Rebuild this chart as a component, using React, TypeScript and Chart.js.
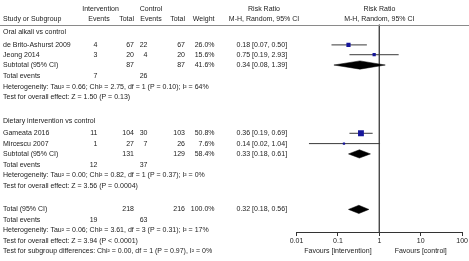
import React, { useEffect, useRef } from "react";
import { Chart, registerables } from "chart.js";

Chart.register(...registerables);

// ---------------- data ----------------
const groupNames = ["Oral alkali vs control", "Dietary intervention vs control"];
const studyNames = ["de Brito-Ashurst 2009", "Jeong 2014", "Gameata 2016", "Mircescu 2007"];
const studyGroup = [0, 0, 1, 1];
const intEvents = [4, 3, 11, 1];
const intTotals = [67, 20, 104, 27];
const ctlEvents = [22, 4, 30, 7];
const ctlTotals = [67, 20, 103, 26];
const studyWeights = [26.0, 15.6, 50.8, 7.6];
const studyRR = [0.18, 0.75, 0.36, 0.14];
const studyLow = [0.07, 0.19, 0.19, 0.02];
const studyHigh = [0.5, 2.93, 0.69, 1.04];

const subIntTotals = [87, 131];
const subCtlTotals = [87, 129];
const subWeights = [41.6, 58.4];
const subRR = [0.34, 0.33];
const subLow = [0.08, 0.18];
const subHigh = [1.39, 0.61];
const subIntEvents = [7, 12];
const subCtlEvents = [26, 37];
const subHeterogeneity = [
  "Heterogeneity: Tau² = 0.66; Chi² = 2.75, df = 1 (P = 0.10); I² = 64%",
  "Heterogeneity: Tau² = 0.00; Chi² = 0.82, df = 1 (P = 0.37); I² = 0%",
];
const subOverall = [
  "Test for overall effect: Z = 1.50 (P = 0.13)",
  "Test for overall effect: Z = 3.56 (P = 0.0004)",
];

const totalIntTotal = 218;
const totalCtlTotal = 216;
const totalWeight = 100.0;
const totalRR = 0.32;
const totalLow = 0.18;
const totalHigh = 0.56;
const totalIntEvents = 19;
const totalCtlEvents = 63;
const totalHeterogeneity = "Heterogeneity: Tau² = 0.06; Chi² = 3.61, df = 3 (P = 0.31); I² = 17%";
const totalOverall = "Test for overall effect: Z = 3.94 (P < 0.0001)";
const subgroupTest = "Test for subgroup differences: Chi² = 0.00, df = 1 (P = 0.97), I² = 0%";

const axisTicks = [0.01, 0.1, 1, 10, 100];
const axisTickLabels = ["0.01", "0.1", "1", "10", "100"];
const favourLabels = ["Favours [intervention]", "Favours [control]"];
const favourAt = [0.1, 10];
const nullValue = 1;

// ---------------- layout (rows in units of 10 px) ----------------
const Y_MAX = 23.2;
const ROWS = {
  head1: 0.5,
  head2: 1.5,
  rule: 2.1,
  groups: [
    { heading: 2.85, studies: [4.15, 5.15], subtotal: 6.2, events: 7.35, het: 8.4, test: 9.5 },
    { heading: 11.95, studies: [13.15, 14.2], subtotal: 15.25, events: 16.4, het: 17.45, test: 18.5 },
  ],
  total: 20.9,
  totalEvents: 22.0,
  totalHet: 23.05,
  totalTest: 24.1,
  subgroup: 25.15,
};
const COL = {
  study: 3,
  intHead: 100.5,
  intEventsHead: 99,
  intEvents: 97.5,
  intTotal: 134,
  ctlHead: 151,
  ctlEventsHead: 151,
  ctlEvents: 147.5,
  ctlTotal: 185,
  weight: 214.5,
  rrHead: 264,
  rrText: 236.5,
};
const FONT_FAMILY = '"Liberation Sans", Arial, sans-serif';
const FONT_SIZE = 7;
const FONT = `${FONT_SIZE}px ${FONT_FAMILY}`;
const TEXT_COLOR = "#222";
const SQUARE_COLOR = "#16169a";
const SQUARE_K = 0.82;
const DIAMOND_H = 0.42;

const fmtRR = (e: number, l: number, h: number) => `${e.toFixed(2)} [${l.toFixed(2)}, ${h.toFixed(2)}]`;

function studyRow(i: number) {
  let k = 0;
  for (let j = 0; j < i; j++) if (studyGroup[j] === studyGroup[i]) k++;
  return ROWS.groups[studyGroup[i]].studies[k];
}

const textPlugin = {
  id: "forestText",
  afterDraw(chart: any) {
    const { ctx, scales } = chart;
    const x = scales.x;
    const y = scales.y;
    const py = (r: number) => y.getPixelForValue(r);
    ctx.save();
    // header rule
    const ry = Math.round(py(ROWS.rule)) + 0.5;
    ctx.strokeStyle = "#8a8a8a";
    ctx.lineWidth = 1;
    ctx.beginPath();
    ctx.moveTo(0, ry);
    ctx.lineTo(chart.width, ry);
    ctx.stroke();

    ctx.fillStyle = TEXT_COLOR;
    ctx.font = FONT;
    ctx.textBaseline = "middle";
    const t = (s: string, xx: number, r: number, align: CanvasTextAlign = "left") => {
      ctx.textAlign = align;
      ctx.fillText(s, xx, py(r));
    };
    const plotCenter = x.getPixelForValue(nullValue);
    // headers
    t("Intervention", COL.intHead, ROWS.head1, "center");
    t("Control", COL.ctlHead, ROWS.head1, "center");
    t("Risk Ratio", COL.rrHead, ROWS.head1, "center");
    t("Risk Ratio", plotCenter, ROWS.head1, "center");
    t("Study or Subgroup", COL.study, ROWS.head2);
    t("Events", COL.intEventsHead, ROWS.head2, "center");
    t("Total", COL.intTotal, ROWS.head2, "right");
    t("Events", COL.ctlEventsHead, ROWS.head2, "center");
    t("Total", COL.ctlTotal, ROWS.head2, "right");
    t("Weight", COL.weight, ROWS.head2, "right");
    t("M-H, Random, 95% CI", COL.rrHead, ROWS.head2, "center");
    t("M-H, Random, 95% CI", plotCenter, ROWS.head2, "center");

    // studies
    studyNames.forEach((name, i) => {
      const r = studyRow(i);
      t(name, COL.study, r);
      t(String(intEvents[i]), COL.intEvents, r, "right");
      t(String(intTotals[i]), COL.intTotal, r, "right");
      t(String(ctlEvents[i]), COL.ctlEvents, r, "right");
      t(String(ctlTotals[i]), COL.ctlTotal, r, "right");
      t(studyWeights[i].toFixed(1) + "%", COL.weight, r, "right");
      t(fmtRR(studyRR[i], studyLow[i], studyHigh[i]), COL.rrText, r);
    });
    // groups
    groupNames.forEach((g, gi) => {
      const G = ROWS.groups[gi];
      t(g, COL.study, G.heading);
      t("Subtotal (95% CI)", COL.study, G.subtotal);
      t(String(subIntTotals[gi]), COL.intTotal, G.subtotal, "right");
      t(String(subCtlTotals[gi]), COL.ctlTotal, G.subtotal, "right");
      t(subWeights[gi].toFixed(1) + "%", COL.weight, G.subtotal, "right");
      t(fmtRR(subRR[gi], subLow[gi], subHigh[gi]), COL.rrText, G.subtotal);
      t("Total events", COL.study, G.events);
      t(String(subIntEvents[gi]), COL.intEvents, G.events, "right");
      t(String(subCtlEvents[gi]), COL.ctlEvents, G.events, "right");
      t(subHeterogeneity[gi], COL.study, G.het);
      t(subOverall[gi], COL.study, G.test);
    });
    // total
    t("Total (95% CI)", COL.study, ROWS.total);
    t(String(totalIntTotal), COL.intTotal, ROWS.total, "right");
    t(String(totalCtlTotal), COL.ctlTotal, ROWS.total, "right");
    t(totalWeight.toFixed(1) + "%", COL.weight, ROWS.total, "right");
    t(fmtRR(totalRR, totalLow, totalHigh), COL.rrText, ROWS.total);
    t("Total events", COL.study, ROWS.totalEvents);
    t(String(totalIntEvents), COL.intEvents, ROWS.totalEvents, "right");
    t(String(totalCtlEvents), COL.ctlEvents, ROWS.totalEvents, "right");
    t(totalHeterogeneity, COL.study, ROWS.totalHet);
    t(totalOverall, COL.study, ROWS.totalTest);
    t(subgroupTest, COL.study, ROWS.subgroup);
    // favours
    favourLabels.forEach((f, i) => t(f, x.getPixelForValue(favourAt[i]), ROWS.subgroup, "center"));
    ctx.restore();
  },
};

export default function App() {
  const ref = useRef<HTMLCanvasElement>(null);
  useEffect(() => {
    const canvas = ref.current;
    if (!canvas) return;
    const datasets: any[] = [];
    // squares (drawn on top => first)
    datasets.push({
      data: studyRR.map((v, i) => ({ x: v, y: studyRow(i) })),
      pointStyle: "rect",
      pointRadius: (c: any) => (SQUARE_K * Math.sqrt(studyWeights[c.dataIndex] ?? 0)) / (2 * Math.SQRT1_2),
      pointBackgroundColor: SQUARE_COLOR,
      pointBorderWidth: 0,
      backgroundColor: SQUARE_COLOR,
      borderWidth: 0,
      showLine: false,
    });
    // CI lines
    studyRR.forEach((_, i) => {
      const r = studyRow(i);
      datasets.push({
        data: [
          { x: studyLow[i], y: r },
          { x: studyHigh[i], y: r },
        ],
        showLine: true,
        borderColor: "#3a3a3a",
        borderWidth: 1,
        pointRadius: 0,
      });
    });
    // diamonds
    const diamonds = [
      ...subRR.map((v, gi) => ({ e: v, l: subLow[gi], h: subHigh[gi], r: ROWS.groups[gi].subtotal })),
      { e: totalRR, l: totalLow, h: totalHigh, r: ROWS.total },
    ];
    diamonds.forEach((d) => {
      datasets.push({
        data: [
          { x: d.l, y: d.r },
          { x: d.e, y: d.r - DIAMOND_H },
          { x: d.h, y: d.r },
          { x: d.e, y: d.r + DIAMOND_H },
          { x: d.l, y: d.r },
        ],
        showLine: true,
        fill: "shape",
        backgroundColor: "#000",
        borderColor: "#000",
        borderWidth: 0.5,
        pointRadius: 0,
        tension: 0,
      });
    });
    // null line
    datasets.push({
      data: [
        { x: nullValue, y: ROWS.rule },
        { x: nullValue, y: Y_MAX },
      ],
      showLine: true,
      borderColor: "#4a4a4a",
      borderWidth: 1,
      pointRadius: 0,
    });

    const chart = new Chart(canvas, {
      type: "scatter",
      data: { datasets },
      options: {
        responsive: false,
        animation: false,
        devicePixelRatio: 1,
        events: [],
        layout: { padding: { left: 296.5, right: 6.5, top: 0, bottom: 14.6 } },
        plugins: { legend: { display: false }, tooltip: { enabled: false } },
        scales: {
          x: {
            type: "logarithmic",
            min: 0.01,
            max: 100,
            position: "bottom",
            afterBuildTicks: (s: any) => {
              s.ticks = axisTicks.map((v) => ({ value: v }));
            },
            ticks: {
              callback: (_v: any, i: number) => axisTickLabels[i],
              font: { size: FONT_SIZE, family: FONT_FAMILY },
              color: TEXT_COLOR,
              padding: 1,
              autoSkip: false,
              maxRotation: 0,
            },
            grid: { display: true, drawOnChartArea: false, drawTicks: true, tickLength: 4, color: "#333" },
            border: { display: true, color: "#333", width: 1 },
          },
          y: { type: "linear", display: false, min: 0, max: Y_MAX, reverse: true },
        },
      } as any,
      plugins: [textPlugin],
    });
    return () => chart.destroy();
  }, []);
  return (
    <div style={{ position: "fixed", left: 0, top: 0, width: 469, height: 261, background: "#fff" }}>
      <canvas ref={ref} width={469} height={261} style={{ display: "block" }} />
    </div>
  );
}
